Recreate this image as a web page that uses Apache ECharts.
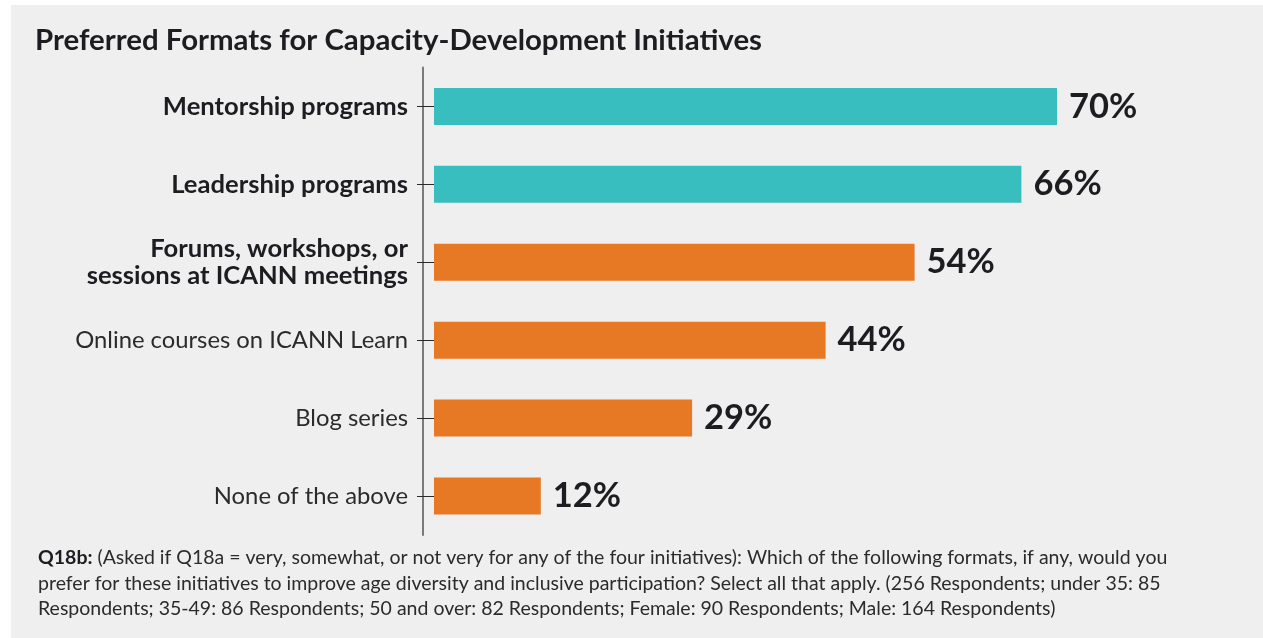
<!DOCTYPE html>
<html>
<head>
<meta charset="utf-8">
<script src="https://cdn.jsdelivr.net/npm/echarts@6/dist/echarts.min.js"></script>
<style>
  html, body { margin: 0; padding: 0; background: #ffffff; }
  #chart { width: 1263px; height: 638px; }
</style>
</head>
<body>
<div id="chart"></div>
<script>
// Survey responses: preferred formats for capacity-development initiatives
const categories = [
  'Mentorship programs',
  'Leadership programs',
  'Forums, workshops, or\nsessions at ICANN meetings',
  'Online courses on ICANN Learn',
  'Blog series',
  'None of the above'
];
const shares = [70, 66, 54, 44, 29, 12];

const titleText = 'Preferred Formats for Capacity-Development Initiatives';
const noteLead = 'Q18b:';
const noteLines = [
  ' (Asked if Q18a = very, somewhat, or not very for any of the four initiatives): Which of the following formats, if any, would you',
  'prefer for these initiatives to improve age diversity and inclusive participation? Select all that apply. (256 Respondents; under 35: 85',
  'Respondents; 35-49: 86 Respondents; 50 and over: 82 Respondents; Female: 90 Respondents; Male: 164 Respondents)'
];

const FONT = 'Lato';
const TEAL = '#38bebe';
const ORANGE = '#e77824';
const INK = '#1c1c21';

const chart = echarts.init(document.getElementById('chart'), null, { renderer: 'canvas' });

chart.setOption({
  backgroundColor: '#ffffff',
  animation: false,
  graphic: [
    {
      type: 'rect',
      z: -10,
      silent: true,
      shape: { x: 11, y: 5, width: 1252, height: 633 },
      style: { fill: '#efefef' }
    },
    {
      type: 'text',
      left: 38,
      top: 545,
      style: {
        text: '{b|' + noteLead + '}' + noteLines[0] + '\n' + noteLines[1] + '\n' + noteLines[2],
        fontFamily: FONT,
        fontSize: 19.5,
        lineHeight: 25.5,
        fill: '#2b2b2b',
        rich: {
          b: { fontFamily: FONT, fontSize: 19.5, fontWeight: 'bold', fill: '#1c1c21', lineHeight: 25.5 }
        }
      }
    }
  ],
  title: {
    text: titleText,
    left: 30,
    top: 21,
    textStyle: { fontFamily: FONT, fontSize: 29.4, fontWeight: 'bold', color: INK }
  },
  grid: { left: 434, top: 67.5, width: 712, height: 467.4, containLabel: false },
  xAxis: {
    type: 'value',
    min: 0,
    max: 80,
    show: false
  },
  yAxis: [
    {
      type: 'category',
      data: categories,
      inverse: true,
      axisLine: { show: false },
      axisTick: { show: true, length: 17, alignWithLabel: true, lineStyle: { color: '#2a2a2a', width: 1 } },
      axisLabel: {
        margin: 26,
        align: 'right',
        formatter: function (v, i) {
          return v.split('\n').map(function (s) { return (i < 3 ? '{b|' : '{r|') + s + '}'; }).join('\n');
        },
        rich: {
          b: { fontFamily: FONT, fontSize: 25.6, fontWeight: 'bold', color: INK, lineHeight: 26.5, align: 'right' },
          r: { fontFamily: FONT, fontSize: 23.8, fontWeight: 'normal', color: '#2b2b2b', lineHeight: 26.5, align: 'right' }
        }
      }
    },
    {
      type: 'category',
      data: categories,
      inverse: true,
      position: 'left',
      offset: 11,
      axisLine: { show: true, lineStyle: { color: '#7a7a7a', width: 2 } },
      axisTick: { show: false },
      axisLabel: { show: false }
    }
  ],
  series: [
    {
      type: 'bar',
      data: shares,
      barWidth: 37,
      itemStyle: {
        color: function (p) { return p.dataIndex < 2 ? TEAL : ORANGE; }
      },
      label: {
        show: true,
        position: 'right',
        distance: 12,
        formatter: '{c}%',
        fontFamily: FONT,
        fontSize: 34.5,
        fontWeight: 'bold',
        color: INK
      }
    }
  ]
});
</script>
</body>
</html>
